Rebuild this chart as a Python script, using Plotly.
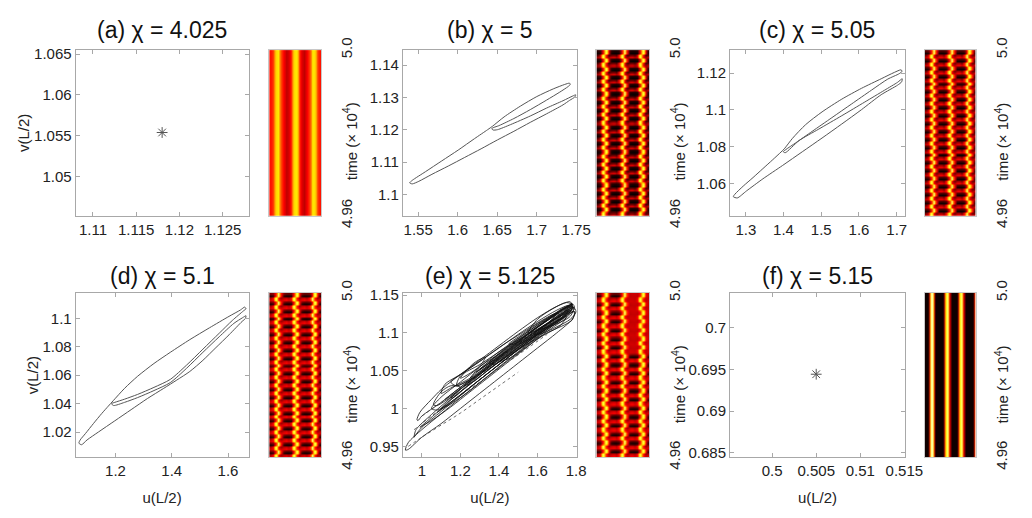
import numpy as np
import plotly.graph_objects as go

FONT = "Liberation Sans, Arial, sans-serif"
W, H = 1032, 518

titles = ["(a) χ = 4.025", "(b) χ = 5", "(c) χ = 5.05",
          "(d) χ = 5.1", "(e) χ = 5.125", "(f) χ = 5.15"]

# ---------------- phase-plane data ----------------
a_fix_u, a_fix_v = [1.1180], [1.0554]
f_fix_u, f_fix_v = [0.5050], [0.69443]

b_u = [1.53921, 1.54253, 1.55913, 1.57988, 1.60063, 1.62138, 1.63798, 1.64421,
       1.65873, 1.67948, 1.70023, 1.72098, 1.73551, 1.74173, 1.74256, 1.73966,
       1.72928, 1.71268, 1.69193, 1.67118, 1.65251, 1.64338, 1.64462,
       1.65043, 1.66703, 1.69193, 1.71268, 1.73343, 1.74588, 1.74950, 1.74850,
       1.74173, 1.73343, 1.71268, 1.69193, 1.67118, 1.65043, 1.62968, 1.60893,
       1.58818, 1.56743, 1.55083, 1.54253, 1.53921]
b_v = [1.10363, 1.10442, 1.10707, 1.11041, 1.11375, 1.11729, 1.12005, 1.12113,
       1.12398, 1.12732, 1.13027, 1.13263, 1.13400, 1.13440, 1.13400, 1.13332,
       1.13164, 1.12919, 1.12624, 1.12349, 1.12132, 1.12044, 1.11995,
       1.12005, 1.12162, 1.12427, 1.12673, 1.12899, 1.13046, 1.13080, 1.13017,
       1.12909, 1.12771, 1.12496, 1.12231, 1.11955, 1.11690, 1.11415, 1.11149,
       1.10884, 1.10628, 1.10412, 1.10333, 1.10363]

c_u = [1.26690, 1.27126, 1.29303, 1.31916, 1.34529, 1.37142, 1.39320, 1.40191,
       1.42368, 1.45852, 1.50207, 1.55433, 1.60659, 1.65885, 1.69369, 1.71111,
       1.71460, 1.70676, 1.67627, 1.63272, 1.58046, 1.52820, 1.47594, 1.43239,
       1.40626, 1.39929, 1.40452, 1.44110, 1.49336, 1.55433, 1.61530, 1.66756,
       1.70240, 1.71460, 1.71285, 1.70240, 1.65885, 1.60659, 1.55433, 1.50207,
       1.44981, 1.39755, 1.34529, 1.30174, 1.27735, 1.26690]
c_v = [1.05311, 1.05449, 1.05880, 1.06345, 1.06828, 1.07311, 1.07724, 1.07897,
       1.08466, 1.09207, 1.09897, 1.10586, 1.11172, 1.11690, 1.12034, 1.12172,
       1.12103, 1.11966, 1.11672, 1.11069, 1.10328, 1.09586, 1.08845, 1.08224,
       1.07862, 1.07741, 1.07690, 1.08345, 1.08966, 1.09690, 1.10431, 1.11069,
       1.11500, 1.11690, 1.11517, 1.11345, 1.10828, 1.10017, 1.09242, 1.08483,
       1.07741, 1.07000, 1.06276, 1.05621, 1.05242, 1.05311]

d_u = [1.07015, 1.07478, 1.09334, 1.12232, 1.15131, 1.17449, 1.19188,
       1.23246, 1.27884, 1.33681, 1.39478, 1.46434, 1.53391, 1.60347, 1.64405, 1.65913,
       1.66376, 1.65449, 1.61507, 1.56869, 1.51072, 1.45275, 1.39478, 1.33681,
       1.27884, 1.23246, 1.19768, 1.18609, 1.19304,
       1.23246, 1.27884, 1.33681, 1.39478, 1.45275, 1.51072, 1.56869, 1.62086, 1.65217, 1.66376,
       1.66144, 1.64985, 1.60347, 1.55710, 1.51072, 1.46434, 1.41797, 1.37159,
       1.31362, 1.25565, 1.19768, 1.13971, 1.09913, 1.07942, 1.07015]
d_v = [1.01219, 1.01443, 1.01891, 1.02608, 1.03302, 1.03818, 1.04198,
       1.05072, 1.05923, 1.06819, 1.07603, 1.08499, 1.09328, 1.10134, 1.10582, 1.10784,
       1.10672, 1.10515, 1.09843, 1.08947, 1.07827, 1.06707, 1.05699, 1.05139,
       1.04646, 1.04310, 1.04086, 1.03997, 1.03862,
       1.04086, 1.04422, 1.04915, 1.05475, 1.06483, 1.07603, 1.08701, 1.09642, 1.10045, 1.10179,
       1.09978, 1.09776, 1.08835, 1.07939, 1.07043, 1.06259, 1.05654, 1.05072,
       1.04355, 1.03571, 1.02787, 1.02003, 1.01443, 1.01107, 1.01219]

e_loops_u = [
    [0.915, 0.930, 1.000, 1.100, 1.200, 1.300, 1.400, 1.500, 1.600, 1.700, 1.770, 1.795, 1.780, 1.700, 1.600, 1.500, 1.400, 1.300, 1.200, 1.100, 1.000, 0.930, 0.915],
    [0.960, 0.970, 1.050, 1.150, 1.250, 1.350, 1.450, 1.550, 1.650, 1.740, 1.780, 1.770, 1.700, 1.600, 1.500, 1.400, 1.300, 1.200, 1.100, 1.000, 0.965, 0.960],
    [0.975, 0.990, 1.050, 1.100, 1.200, 1.300, 1.400, 1.500, 1.600, 1.700, 1.770, 1.780, 1.700, 1.600, 1.500, 1.400, 1.300, 1.200, 1.100, 1.000, 0.980, 0.975],
    [1.050, 1.100, 1.200, 1.300, 1.400, 1.500, 1.600, 1.700, 1.780, 1.760, 1.680, 1.580, 1.480, 1.380, 1.280, 1.180, 1.080, 1.050],
    [1.100, 1.120, 1.200, 1.300, 1.400, 1.500, 1.600, 1.700, 1.760, 1.740, 1.650, 1.550, 1.450, 1.350, 1.250, 1.150, 1.100],
    [1.180, 1.200, 1.300, 1.450, 1.600, 1.720, 1.790, 1.780, 1.650, 1.500, 1.350, 1.220, 1.180],
    [1.250, 1.300, 1.400, 1.500, 1.600, 1.700, 1.750, 1.730, 1.650, 1.550, 1.450, 1.350, 1.270, 1.250],
    [1.550, 1.600, 1.680, 1.750, 1.790, 1.770, 1.700, 1.620, 1.550],
    [1.350, 1.450, 1.550, 1.650, 1.730, 1.770, 1.740, 1.660, 1.560, 1.460, 1.370, 1.350],
    [0.990, 1.080, 1.180, 1.280, 1.380, 1.480, 1.580, 1.680, 1.760, 1.790, 1.750, 1.650, 1.550, 1.450, 1.350, 1.250, 1.150, 1.050, 0.995, 0.990],
    [1.450, 1.520, 1.600, 1.680, 1.740, 1.780, 1.750, 1.680, 1.600, 1.520, 1.460, 1.450],
    [1.100, 1.150, 1.250, 1.350, 1.450, 1.550, 1.650, 1.720, 1.750, 1.720, 1.620, 1.520, 1.420, 1.320, 1.220, 1.130, 1.100],
    [1.150, 1.220, 1.320, 1.420, 1.520, 1.620, 1.700, 1.720, 1.660, 1.560, 1.460, 1.360, 1.260, 1.180, 1.150],
    [1.060, 1.100, 1.150, 1.200, 1.170, 1.120, 1.080, 1.060],
    [1.200, 1.270, 1.330, 1.300, 1.240, 1.200],
    [1.580, 1.650, 1.720, 1.780, 1.800, 1.770, 1.700, 1.630, 1.580],
    [1.300, 1.380, 1.460, 1.540, 1.620, 1.700, 1.660, 1.580, 1.500, 1.420, 1.340, 1.300],
    [1.120, 1.200, 1.280, 1.360, 1.440, 1.400, 1.320, 1.240, 1.160, 1.120],
    [1.150, 1.250, 1.350, 1.450, 1.550, 1.650, 1.740, 1.770, 1.730, 1.630, 1.530, 1.430, 1.330, 1.230, 1.160, 1.150],
    [1.220, 1.300, 1.400, 1.500, 1.600, 1.700, 1.760, 1.740, 1.660, 1.560, 1.460, 1.360, 1.270, 1.220],
    [1.280, 1.360, 1.460, 1.560, 1.660, 1.750, 1.780, 1.720, 1.620, 1.520, 1.420, 1.330, 1.280],
    [1.400, 1.480, 1.580, 1.680, 1.760, 1.790, 1.750, 1.660, 1.560, 1.460, 1.400],
    [1.080, 1.160, 1.260, 1.360, 1.460, 1.560, 1.640, 1.600, 1.500, 1.400, 1.300, 1.200, 1.120, 1.080],
    [1.500, 1.580, 1.660, 1.740, 1.780, 1.750, 1.680, 1.600, 1.530, 1.500],
]
e_loops_v = [
    [0.945, 0.955, 0.972, 0.993, 1.014, 1.034, 1.055, 1.075, 1.095, 1.113, 1.126, 1.128, 1.118, 1.100, 1.080, 1.060, 1.040, 1.020, 1.000, 0.980, 0.962, 0.946, 0.945],
    [0.962, 0.972, 0.992, 1.014, 1.036, 1.057, 1.078, 1.098, 1.117, 1.133, 1.136, 1.128, 1.115, 1.097, 1.078, 1.058, 1.038, 1.017, 0.996, 0.975, 0.964, 0.962],
    [0.985, 0.995, 1.012, 1.025, 1.045, 1.064, 1.083, 1.102, 1.120, 1.135, 1.141, 1.132, 1.120, 1.103, 1.085, 1.066, 1.046, 1.028, 1.008, 0.990, 0.984, 0.985],
    [1.000, 1.015, 1.035, 1.055, 1.075, 1.093, 1.110, 1.126, 1.138, 1.128, 1.112, 1.094, 1.074, 1.054, 1.034, 1.014, 0.998, 1.000],
    [1.020, 1.032, 1.045, 1.062, 1.080, 1.098, 1.115, 1.130, 1.136, 1.126, 1.112, 1.095, 1.076, 1.058, 1.040, 1.027, 1.020],
    [1.030, 1.043, 1.058, 1.083, 1.105, 1.122, 1.128, 1.117, 1.100, 1.078, 1.053, 1.034, 1.030],
    [1.040, 1.055, 1.072, 1.090, 1.108, 1.124, 1.132, 1.125, 1.112, 1.096, 1.078, 1.060, 1.045, 1.040],
    [1.100, 1.118, 1.132, 1.140, 1.136, 1.122, 1.112, 1.105, 1.100],
    [1.060, 1.080, 1.098, 1.116, 1.130, 1.135, 1.124, 1.108, 1.090, 1.072, 1.058, 1.060],
    [0.975, 0.995, 1.018, 1.040, 1.062, 1.083, 1.104, 1.122, 1.134, 1.132, 1.120, 1.102, 1.082, 1.062, 1.042, 1.022, 1.002, 0.984, 0.976, 0.975],
    [1.085, 1.098, 1.112, 1.124, 1.134, 1.138, 1.130, 1.118, 1.104, 1.090, 1.084, 1.085],
    [1.000, 1.012, 1.032, 1.052, 1.072, 1.090, 1.108, 1.118, 1.122, 1.110, 1.095, 1.077, 1.058, 1.038, 1.018, 1.003, 1.000],
    [1.035, 1.048, 1.066, 1.084, 1.100, 1.116, 1.126, 1.122, 1.110, 1.094, 1.077, 1.058, 1.040, 1.030, 1.035],
    [1.005, 1.022, 1.030, 1.028, 1.018, 1.010, 1.004, 1.005],
    [1.040, 1.060, 1.068, 1.056, 1.045, 1.040],
    [1.098, 1.112, 1.126, 1.135, 1.128, 1.118, 1.108, 1.100, 1.098],
    [1.052, 1.068, 1.084, 1.098, 1.112, 1.126, 1.114, 1.100, 1.086, 1.072, 1.058, 1.052],
    [1.012, 1.028, 1.044, 1.060, 1.076, 1.066, 1.050, 1.034, 1.018, 1.012],
    [1.015, 1.035, 1.055, 1.074, 1.093, 1.111, 1.126, 1.130, 1.120, 1.104, 1.086, 1.067, 1.048, 1.028, 1.014, 1.015],
    [1.030, 1.045, 1.064, 1.083, 1.101, 1.118, 1.130, 1.123, 1.110, 1.092, 1.073, 1.054, 1.036, 1.030],
    [1.048, 1.062, 1.081, 1.100, 1.118, 1.134, 1.138, 1.130, 1.114, 1.096, 1.077, 1.058, 1.048],
    [1.062, 1.078, 1.097, 1.116, 1.131, 1.134, 1.124, 1.106, 1.086, 1.067, 1.062],
    [0.995, 1.010, 1.030, 1.050, 1.070, 1.088, 1.104, 1.098, 1.078, 1.058, 1.038, 1.018, 1.002, 0.995],
    [1.085, 1.100, 1.114, 1.128, 1.132, 1.122, 1.110, 1.098, 1.088, 1.085],
]
# sparse (dotted) fast segments of the chaotic orbit
e_dot_u = [[0.930, 1.000, 1.100, 1.200, 1.300, 1.400, 1.500],
           [0.960, 1.050, 1.150, 1.250, 1.350, 1.450, 1.550, 1.650],
           [1.000, 1.100, 1.200, 1.300, 1.400, 1.500, 1.600]]
e_dot_v = [[0.950, 0.962, 0.978, 0.994, 1.012, 1.030, 1.048],
           [0.972, 0.990, 1.008, 1.026, 1.044, 1.062, 1.080, 1.098],
           [0.990, 1.008, 1.026, 1.046, 1.066, 1.086, 1.104]]

# axis ranges and ticks (u, v)
u_range = [[1.1080, 1.1280], [1.5306, 1.7508], [1.2582, 1.7218],
           [1.0586, 1.6730], [0.9017, 1.8034], [0.49522, 0.51507]]
v_range = [[1.0452, 1.0655], [1.0935, 1.1446], [1.0428, 1.1324],
           [1.0021, 1.1179], [0.9353, 1.1529], [0.68443, 0.70421]]
u_ticks = [[1.11, 1.115, 1.12, 1.125], [1.55, 1.6, 1.65, 1.7, 1.75], [1.3, 1.4, 1.5, 1.6, 1.7],
           [1.2, 1.4, 1.6], [1.0, 1.2, 1.4, 1.6, 1.8], [0.5, 0.505, 0.51, 0.515]]
u_tick_text = [["1.11", "1.115", "1.12", "1.125"], ["1.55", "1.6", "1.65", "1.7", "1.75"],
               ["1.3", "1.4", "1.5", "1.6", "1.7"], ["1.2", "1.4", "1.6"],
               ["1", "1.2", "1.4", "1.6", "1.8"], ["0.5", "0.505", "0.51", "0.515"]]
v_ticks = [[1.05, 1.055, 1.06, 1.065], [1.1, 1.11, 1.12, 1.13, 1.14], [1.06, 1.08, 1.1, 1.12],
           [1.02, 1.04, 1.06, 1.08, 1.1], [0.95, 1.0, 1.05, 1.1, 1.15], [0.685, 0.69, 0.695, 0.7]]
v_tick_text = [["1.05", "1.055", "1.06", "1.065"], ["1.1", "1.11", "1.12", "1.13", "1.14"],
               ["1.06", "1.08", "1.1", "1.12"], ["1.02", "1.04", "1.06", "1.08", "1.1"],
               ["0.95", "1", "1.05", "1.1", "1.15"], ["0.685", "0.69", "0.695", "0.7"]]

# ---------------- space-time heatmap data ----------------
time_ticks = [4.96, 5.0]
time_tick_text = ["4.96", "5.0"]

# MATLAB-like "hot" colour map: black -> red -> yellow -> white
HOT = [[0.0, "#000000"], [0.375, "#ff0000"], [0.75, "#ffff00"], [1.0, "#ffffff"]]

prof_a = [0.40, 0.48, 0.70, 0.72, 0.48, 0.36, 0.28, 0.32, 0.45, 0.70, 0.72, 0.45, 0.32, 0.28, 0.36, 0.48, 0.72, 0.70, 0.48, 0.40]
prof_f = [0.02, 0.02, 0.02, 0.30, 0.72, 0.95, 0.72, 0.30, 0.02, 0.02, 0.02, 0.02, 0.02, 0.02, 0.02, 0.30, 0.72, 0.95, 0.72, 0.30,
          0.02, 0.02, 0.02, 0.02, 0.02, 0.02, 0.30, 0.72, 0.95, 0.72, 0.30, 0.02, 0.02, 0.02, 0.02, 0.02, 0.02, 0.02, 0.32, 0.65]

tile_b = [
    [0.24, 0.36, 0.88, 0.36, 0.22, 0.30, 0.33, 0.24, 0.36, 0.88, 0.36, 0.22, 0.30, 0.33, 0.24, 0.36, 0.88, 0.36, 0.22, 0.26],
    [0.12, 0.36, 0.88, 0.36, 0.10, 0.15, 0.17, 0.12, 0.36, 0.88, 0.36, 0.10, 0.15, 0.17, 0.12, 0.36, 0.88, 0.36, 0.10, 0.12],
    [0.02, 0.06, 0.36, 0.88, 0.36, 0.03, 0.01, 0.01, 0.03, 0.36, 0.88, 0.36, 0.03, 0.01, 0.01, 0.03, 0.36, 0.88, 0.36, 0.03],
    [0.06, 0.10, 0.36, 0.88, 0.36, 0.06, 0.04, 0.04, 0.06, 0.36, 0.88, 0.36, 0.06, 0.04, 0.04, 0.06, 0.36, 0.88, 0.36, 0.06],
]
tile_c = [
    [0.28, 0.38, 0.88, 0.38, 0.26, 0.33, 0.36, 0.28, 0.38, 0.88, 0.38, 0.26, 0.33, 0.36, 0.28, 0.38, 0.88, 0.38, 0.26, 0.30],
    [0.18, 0.38, 0.88, 0.38, 0.16, 0.24, 0.26, 0.18, 0.38, 0.88, 0.38, 0.16, 0.24, 0.26, 0.18, 0.38, 0.88, 0.38, 0.16, 0.18],
    [0.03, 0.08, 0.38, 0.88, 0.38, 0.04, 0.02, 0.02, 0.04, 0.38, 0.88, 0.38, 0.04, 0.02, 0.02, 0.04, 0.38, 0.88, 0.38, 0.04],
    [0.12, 0.16, 0.38, 0.88, 0.38, 0.12, 0.10, 0.10, 0.12, 0.38, 0.88, 0.38, 0.12, 0.10, 0.10, 0.12, 0.38, 0.88, 0.38, 0.12],
]
tile_d = [
    [0.32, 0.40, 0.88, 0.40, 0.30, 0.35, 0.38, 0.32, 0.40, 0.88, 0.40, 0.30, 0.35, 0.38, 0.32, 0.40, 0.88, 0.40, 0.30, 0.32],
    [0.25, 0.40, 0.88, 0.40, 0.22, 0.28, 0.30, 0.25, 0.40, 0.88, 0.40, 0.22, 0.28, 0.30, 0.25, 0.40, 0.88, 0.40, 0.22, 0.25],
    [0.05, 0.10, 0.40, 0.88, 0.40, 0.05, 0.02, 0.02, 0.05, 0.40, 0.88, 0.40, 0.05, 0.02, 0.02, 0.05, 0.40, 0.88, 0.40, 0.05],
    [0.18, 0.22, 0.40, 0.88, 0.40, 0.18, 0.15, 0.15, 0.18, 0.40, 0.88, 0.40, 0.18, 0.15, 0.15, 0.18, 0.40, 0.88, 0.40, 0.18],
]
tile_e_top = [
    [0.32, 0.40, 0.88, 0.40, 0.30, 0.35, 0.38, 0.32, 0.40, 0.88, 0.40, 0.30, 0.31, 0.31, 0.30, 0.38, 0.88, 0.38, 0.29, 0.30],
    [0.25, 0.40, 0.88, 0.40, 0.22, 0.28, 0.30, 0.25, 0.40, 0.88, 0.40, 0.29, 0.30, 0.30, 0.29, 0.38, 0.88, 0.38, 0.28, 0.29],
    [0.05, 0.10, 0.40, 0.88, 0.40, 0.05, 0.02, 0.02, 0.05, 0.40, 0.88, 0.40, 0.28, 0.29, 0.29, 0.28, 0.38, 0.88, 0.38, 0.28],
    [0.18, 0.22, 0.40, 0.88, 0.40, 0.18, 0.15, 0.15, 0.18, 0.40, 0.88, 0.40, 0.29, 0.30, 0.30, 0.29, 0.38, 0.88, 0.38, 0.29],
]
periods_b, periods_c, periods_d = 20, 21, 21
periods_e_low, periods_e_top = 12, 7

heat_z = [
    [prof_a, prof_a],
    np.tile(tile_b, (periods_b, 1)),
    np.tile(tile_c, (periods_c, 1)),
    np.tile(tile_d, (periods_d, 1)),
    np.vstack([np.tile(tile_d, (periods_e_low, 1)), np.tile(tile_e_top, (periods_e_top, 1))]),
    [prof_f, prof_f],
]

# ---------------- layout geometry (pixels) ----------------
col_px = [(77, 253), (410, 587), (743, 921)]
heat_px = [(274, 327), (607, 661), (941, 993)]
row_px = [(39, 213), (294, 467)]
title_y_px = [18, 276]
time_label_x_px = [356, 690, 1019]


def xdom(p):
    return [p[0] / W, p[1] / W]


def ydom(p):
    return [1 - p[1] / H, 1 - p[0] / H]


fig = go.Figure()
LINE = dict(color="#555555", width=1, shape="spline", smoothing=0.7)
STAR = dict(symbol="asterisk-open", size=9, color="#555", line=dict(width=1, color="#555"))

curves = {1: (b_u, b_v), 2: (c_u, c_v), 3: (d_u, d_v)}
for i in range(6):
    ax = "" if i == 0 else str(i + 1)
    xa, ya = "x" + ax, "y" + ax
    if i == 0:
        fig.add_trace(go.Scatter(x=a_fix_u, y=a_fix_v, mode="markers", xaxis=xa, yaxis=ya, marker=STAR))
    elif i == 5:
        fig.add_trace(go.Scatter(x=f_fix_u, y=f_fix_v, mode="markers", xaxis=xa, yaxis=ya, marker=STAR))
    elif i == 4:
        for lu, lv in zip(e_loops_u, e_loops_v):
            fig.add_trace(go.Scatter(x=lu, y=lv, mode="lines", xaxis=xa, yaxis=ya,
                                     line=dict(color="#111111", width=0.8, shape="spline", smoothing=0.8)))
        for lu, lv in zip(e_dot_u, e_dot_v):
            fig.add_trace(go.Scatter(x=lu, y=lv, mode="lines", xaxis=xa, yaxis=ya,
                                     line=dict(color="#444", width=0.8, dash="dot", shape="spline")))
    else:
        cu, cv = curves[i]
        fig.add_trace(go.Scatter(x=cu, y=cv, mode="lines", xaxis=xa, yaxis=ya, line=LINE))

    hz = np.asarray(heat_z[i], dtype=float)
    nr, nc = hz.shape
    hx = str(i + 7)
    fig.add_trace(go.Heatmap(z=hz, x0=0.5 / nc, dx=1.0 / nc,
                             y0=4.96 + 0.02 / nr, dy=0.04 / nr, zsmooth="best",
                             colorscale=HOT, zmin=0, zmax=1, showscale=False,
                             xaxis="x" + hx, yaxis="y" + hx, hoverinfo="skip"))

axis_common = dict(showline=True, linecolor="#a8a8a8", linewidth=1, mirror="ticks",
                   ticks="inside", ticklen=4, tickcolor="#a8a8a8", showgrid=False,
                   zeroline=False, tickfont=dict(size=15, color="#222", family=FONT))

layout = dict(width=W, height=H, margin=dict(l=0, r=0, t=0, b=0),
              paper_bgcolor="white", plot_bgcolor="white", showlegend=False,
              font=dict(family=FONT, color="#222"))

annotations = []
for i in range(6):
    r, c = divmod(i, 3)
    ax = "" if i == 0 else str(i + 1)
    xa = dict(axis_common, domain=xdom(col_px[c]), range=u_range[i], anchor="y" + ax,
              tickvals=u_ticks[i], ticktext=u_tick_text[i])
    ya = dict(axis_common, domain=ydom(row_px[r]), range=v_range[i], anchor="x" + ax,
              tickvals=v_ticks[i], ticktext=v_tick_text[i])
    if r == 1:
        xa["title"] = dict(text="u(L/2)", font=dict(size=15, family=FONT, color="#222"), standoff=14)
    if c == 0:
        ya["title"] = dict(text="v(L/2)", font=dict(size=15, family=FONT, color="#222"), standoff=0)
    layout["xaxis" + ax] = xa
    layout["yaxis" + ax] = ya

    hx = str(i + 7)
    layout["xaxis" + hx] = dict(domain=xdom(heat_px[c]), range=[0, 1], anchor="y" + hx,
                                showline=True, mirror=True, linecolor="#c8c8c8", linewidth=1,
                                showticklabels=False, ticks="", showgrid=False, zeroline=False)
    layout["yaxis" + hx] = dict(domain=ydom(row_px[r]), range=[4.96, 5.0], anchor="x" + hx,
                                side="right", showline=True, mirror=True, linecolor="#c8c8c8",
                                linewidth=1, ticks="", showgrid=False, zeroline=False,
                                tickvals=time_ticks, ticktext=time_tick_text, tickangle=-90,
                                ticklabelstandoff=12,
                                tickfont=dict(size=15, family=FONT, color="#222"))

    cx = (col_px[c][0] + col_px[c][1]) / 2 / W
    annotations.append(dict(text=titles[i], x=cx, y=1 - title_y_px[r] / H, xref="paper", yref="paper",
                            xanchor="center", yanchor="middle", showarrow=False,
                            font=dict(size=23, family=FONT, color="#111")))
    annotations.append(dict(text="time (× 10<sup>4</sup>)", textangle=-90,
                            x=time_label_x_px[c] / W, y=1 - (row_px[r][0] + 96) / H,
                            xref="paper", yref="paper", xanchor="center", yanchor="middle",
                            showarrow=False, font=dict(size=15, family=FONT, color="#222")))

layout["annotations"] = annotations
fig.update_layout(**layout)
fig.write_html("out.html")
